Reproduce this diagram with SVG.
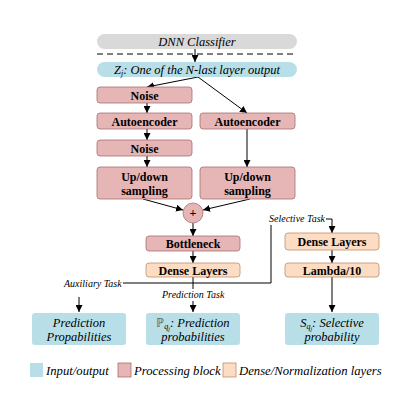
<svg xmlns="http://www.w3.org/2000/svg" width="417" height="400" viewBox="0 0 417 400">
<defs>
<marker id="ah" viewBox="0 0 10 10" refX="10" refY="5" markerWidth="7" markerHeight="7" markerUnits="userSpaceOnUse" orient="auto">
<path d="M0,0 L10,5 L0,10 Z" fill="#000"/>
</marker>
<style>
.proc{fill:#e6b5b5;stroke:#a87070;stroke-width:0.8}
.dense{fill:#fcdcc2;stroke:#c0906a;stroke-width:0.8}
.io{fill:#b8dfe8}
.gray{fill:#d9d9d9}
.c{stroke:#000;stroke-width:1;fill:none}
.a{stroke:#000;stroke-width:1;fill:none;marker-end:url(#ah)}
</style>
</defs>
<rect width="417" height="400" fill="#fff"/>
<g id="connectors">
<line class="c" x1="97" y1="54" x2="297" y2="54" stroke-dasharray="6,4"/>
<line class="a" x1="195" y1="49" x2="195" y2="62"/>
<line class="a" x1="198" y1="77" x2="147" y2="87"/>
<line class="a" x1="198" y1="77" x2="247" y2="113"/>
<line class="a" x1="147" y1="103" x2="147" y2="113"/>
<line class="a" x1="147" y1="129" x2="147" y2="140"/>
<line class="a" x1="147" y1="156" x2="147" y2="167"/>
<line class="a" x1="247" y1="129" x2="247" y2="167"/>
<line class="a" x1="143" y1="199" x2="183" y2="210"/>
<line class="a" x1="250" y1="199" x2="203" y2="210"/>
<line class="a" x1="193" y1="223" x2="193" y2="236"/>
<line class="a" x1="193" y1="251" x2="193" y2="263"/>
<line class="c" x1="193" y1="277" x2="193" y2="289"/>
<polyline class="c" points="123,283 271,283 271,225"/>
<line class="a" x1="79" y1="297" x2="79" y2="312"/>
<line class="a" x1="193" y1="301" x2="193" y2="312"/>
<polyline class="a" points="326,219 332,219 332,233"/>
<line class="a" x1="332" y1="250" x2="332" y2="263"/>
<line class="a" x1="332" y1="271" x2="332" y2="312"/>
</g>
<g id="dnn"><rect class="gray" x="97" y="34" width="200" height="15" rx="7.5"/><text font-family="Liberation Serif" font-style="italic" font-size="12.5" text-anchor="middle" x="197" y="45.5">DNN Classifier</text></g>
<g id="zj"><rect class="io" x="97" y="62" width="200" height="15" rx="7.5"/><text font-family="Liberation Serif" font-style="italic" font-size="12.5" text-anchor="middle" x="197" y="73.5">Z<tspan font-size="8" dy="2">j</tspan><tspan dy="-2">: One of the N-last layer output</tspan></text></g>
<g id="noise1"><rect class="proc" x="97" y="87" width="95" height="16" rx="3"/><text font-family="Liberation Serif" font-weight="bold" font-size="12" text-anchor="middle" x="144.5" y="99.5">Noise</text></g>
<g id="ae1"><rect class="proc" x="97" y="113" width="95" height="16" rx="3"/><text font-family="Liberation Serif" font-weight="bold" font-size="12" text-anchor="middle" x="144.5" y="125.5">Autoencoder</text></g>
<g id="ae2"><rect class="proc" x="200" y="113" width="95" height="16" rx="3"/><text font-family="Liberation Serif" font-weight="bold" font-size="12" text-anchor="middle" x="247.5" y="125.5">Autoencoder</text></g>
<g id="noise2"><rect class="proc" x="97" y="140" width="95" height="16" rx="3"/><text font-family="Liberation Serif" font-weight="bold" font-size="12" text-anchor="middle" x="144.5" y="152.5">Noise</text></g>
<g id="ud1"><rect class="proc" x="97" y="167" width="95" height="32" rx="3"/><text font-family="Liberation Serif" font-weight="bold" font-size="12" text-anchor="middle" x="144.5" y="181">Up/down</text><text font-family="Liberation Serif" font-weight="bold" font-size="12" text-anchor="middle" x="144.5" y="194.5">sampling</text></g>
<g id="ud2"><rect class="proc" x="200" y="167" width="95" height="32" rx="3"/><text font-family="Liberation Serif" font-weight="bold" font-size="12" text-anchor="middle" x="247.5" y="181">Up/down</text><text font-family="Liberation Serif" font-weight="bold" font-size="12" text-anchor="middle" x="247.5" y="194.5">sampling</text></g>
<g id="plus"><circle class="proc" cx="193" cy="213" r="10"/><text font-family="Liberation Serif" font-weight="bold" font-size="12" text-anchor="middle" x="193" y="217">+</text></g>
<g id="bottleneck"><rect class="proc" x="146" y="236" width="94" height="15" rx="3"/><text font-family="Liberation Serif" font-weight="bold" font-size="12" text-anchor="middle" x="193" y="248">Bottleneck</text></g>
<g id="dense1"><rect class="dense" x="146" y="263" width="94" height="14" rx="3"/><text font-family="Liberation Serif" font-weight="bold" font-size="12" text-anchor="middle" x="193" y="274.5">Dense Layers</text></g>
<g id="dense2"><rect class="dense" x="285" y="233" width="94" height="17" rx="3"/><text font-family="Liberation Serif" font-weight="bold" font-size="12" text-anchor="middle" x="332" y="246">Dense Layers</text></g>
<g id="lambda"><rect class="dense" x="285" y="263" width="94" height="14" rx="3"/><text font-family="Liberation Serif" font-weight="bold" font-size="12" text-anchor="middle" x="332" y="274.5">Lambda/10</text></g>
<g id="labels">
<text font-family="Liberation Serif" font-style="italic" font-size="10" x="64" y="286.5">Auxiliary Task</text>
<text font-family="Liberation Serif" font-style="italic" font-size="10" x="162" y="298">Prediction Task</text>
<text font-family="Liberation Serif" font-style="italic" font-size="10" x="269" y="222">Selective Task</text>
</g>
<g id="out1"><rect class="io" x="32" y="313" width="94" height="32" rx="3"/><text font-family="Liberation Serif" font-style="italic" font-size="12.5" text-anchor="middle" x="79" y="327">Prediction</text><text font-family="Liberation Serif" font-style="italic" font-size="12.5" text-anchor="middle" x="79" y="341">Propabilities</text></g>
<g id="out2"><rect class="io" x="146" y="313" width="94" height="32" rx="3"/><text font-family="Liberation Serif" font-style="italic" font-size="12.5" text-anchor="middle" x="193" y="327"><tspan font-style="normal" fill="#666">ℙ</tspan><tspan font-size="8" dy="2">q</tspan><tspan font-size="6" dy="1.5">j</tspan><tspan dy="-3.5">: Prediction</tspan></text><text font-family="Liberation Serif" font-style="italic" font-size="12.5" text-anchor="middle" x="193" y="341">probabilities</text></g>
<g id="out3"><rect class="io" x="285" y="313" width="94" height="32" rx="3"/><text font-family="Liberation Serif" font-style="italic" font-size="12.5" text-anchor="middle" x="332" y="327">S<tspan font-size="8" dy="2">q</tspan><tspan font-size="6" dy="1.5">j</tspan><tspan dy="-3.5">: Selective</tspan></text><text font-family="Liberation Serif" font-style="italic" font-size="12.5" text-anchor="middle" x="332" y="341">probability</text></g>
<g id="legend">
<rect class="io" x="30" y="363" width="13" height="14"/><text font-family="Liberation Serif" font-style="italic" font-size="12.7" x="46" y="375">Input/output</text>
<rect class="proc" x="118" y="363" width="13" height="14"/><text font-family="Liberation Serif" font-style="italic" font-size="12.7" x="134" y="375">Processing block</text>
<rect class="dense" x="223" y="363" width="13" height="14"/><text font-family="Liberation Serif" font-style="italic" font-size="12.7" x="239" y="375">Dense/Normalization layers</text>
</g>
</svg>
